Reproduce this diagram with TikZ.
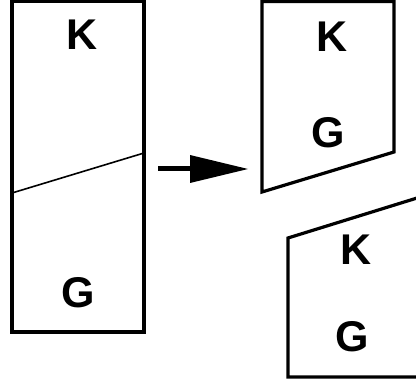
\documentclass[tikz,border=0pt]{standalone}
\usepackage{fontspec}
\setmainfont{Liberation Sans}
\begin{document}
\begin{tikzpicture}[x=1pt,y=-1pt,
  outline/.style={line width=3.2pt,line join=miter},
  cutline/.style={line width=1.6pt},
  lbl/.style={font=\fontsize{43}{43}\selectfont\bfseries,inner sep=0pt}]
\useasboundingbox (0,0) rectangle (416,385);
% original block
\draw[outline] (12,1.6) rectangle (144,332);
\draw[cutline] (12,193) -- (144,153);
\node[lbl] (k1) at (82,35) {K};
\node[lbl] (g1) at (78,293) {G};
% arrow
\draw[line width=5pt] (158,169) -- (192,169);
\fill (190,155) -- (248,169) -- (190,183) -- cycle;
% upper piece
\draw[outline] (262,192) -- (262,1.6) -- (394,1.6) -- (394,152) -- cycle;
\node[lbl] (k2) at (332,37) {K};
\node[lbl] (g2) at (328,133) {G};
% lower piece (extends beyond right edge)
\draw[outline] (430,194) -- (288,238) -- (288,377) -- (430,377);
\node[lbl] (k3) at (356,250) {K};
\node[lbl] (g3) at (352,337) {G};
\end{tikzpicture}
\end{document}
